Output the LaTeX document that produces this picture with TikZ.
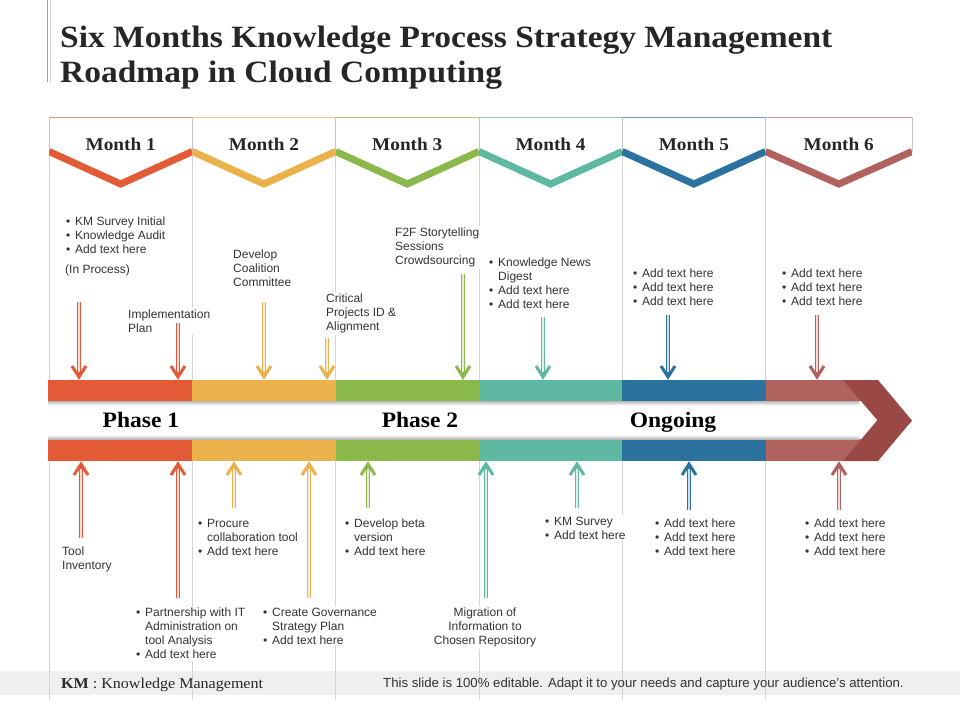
\documentclass[tikz,border=0pt]{standalone}
\usepackage{fontspec}
\setmainfont{Liberation Sans}
\newfontfamily\serifhead[FakeStretch=1.07]{Liberation Serif}
\newfontfamily\seriftitle[FakeStretch=1.08]{Liberation Serif}
\usetikzlibrary{calc}

\definecolor{cOrange}{HTML}{E35B36}
\definecolor{cYellow}{HTML}{EBB14B}
\definecolor{cGreen}{HTML}{8BB84B}
\definecolor{cTeal}{HTML}{5EB8A2}
\definecolor{cBlue}{HTML}{2B729E}
\definecolor{cRose}{HTML}{B0625F}
\definecolor{cDark}{HTML}{9A4845}
\definecolor{gridgray}{HTML}{D4D4D4}
\definecolor{bodytext}{HTML}{333333}
\definecolor{titleink}{HTML}{262626}
\definecolor{footgray}{HTML}{EFEFEF}

\tikzset{
  gridline/.style={draw=gridgray, line width=0.8pt},
  monthlbl/.style={font=\serifhead\bfseries\fontsize{18}{18}\selectfont, text=titleink, anchor=base, inner sep=0pt},
  phaselbl/.style={font=\serifhead\bfseries\fontsize{22}{22}\selectfont, text=black, anchor=base, inner sep=0pt},
  titlelbl/.style={font=\seriftitle\bfseries\fontsize{31}{35}\selectfont, text=titleink, anchor=base west, inner sep=0pt},
  note/.style={font=\fontsize{12}{14}\selectfont, text=bodytext, align=left, anchor=north west, inner sep=2pt, fill=white},
  rmshaft/.style={draw=#1, line width=3.6pt},
  rmcore/.style={draw=#1!22, line width=1.4pt},
  rmhead/.style={draw=#1, line width=3pt, line join=miter, line cap=butt},
}

% bullet with a fixed indent
\newcommand{\bu}{\makebox[9pt][l]{•}}
\newcommand{\ind}{\hspace*{9pt}}

% double-line arrow pointing down onto the timeline bar
\newcommand{\arrowdown}[4]{%
  \coordinate (#1-from) at (#3,#4);
  \coordinate (#1-to) at (#3,377);
  \draw[rmshaft=#2] (#1-from) -- ($(#1-to)+(0,-2)$);
  \draw[rmcore=#2] (#1-from) -- ($(#1-to)+(0,-5)$);
  \draw[rmhead=#2] ($(#1-to)+(-7,-11)$) -- (#1-to) -- ($(#1-to)+(7,-11)$);
}
% double-line arrow pointing up onto the timeline bar
\newcommand{\arrowup}[4]{%
  \coordinate (#1-from) at (#3,#4);
  \coordinate (#1-to) at (#3,464);
  \draw[rmshaft=#2] (#1-from) -- ($(#1-to)+(0,2)$);
  \draw[rmcore=#2] (#1-from) -- ($(#1-to)+(0,5)$);
  \draw[rmhead=#2] ($(#1-to)+(-7,11)$) -- (#1-to) -- ($(#1-to)+(7,11)$);
}

\begin{document}
\begin{tikzpicture}[x=1pt,y=-1pt]
\useasboundingbox (0,0) rectangle (960,720);
\fill[white] (0,0) rectangle (960,720);

% title
\draw[gray!75, line width=1.6pt] (47.3,0) -- (47.3,82);
\draw[gray!35, line width=0.8pt] (50.6,0) -- (50.6,82);
\node[titlelbl] (title1) at (60,47) {Six Months Knowledge Process Strategy Management};
\node[titlelbl] (title2) at (60,82) {Roadmap in Cloud Computing};

% footer band
\fill[footgray] (0,671) rectangle (960,695);

% column rules
\foreach \xa in {49,192.3,335.6,478.9,622.2,765.5}
  \draw[gridline] (\xa,117) -- (\xa,700);

% month tabs
\foreach \i/\xa/\xb/\c in {1/49/192.3/cOrange, 2/192.3/335.6/cYellow, 3/335.6/478.9/cGreen,
                           4/478.9/622.2/cTeal, 5/622.2/765.5/cBlue, 6/765.5/912/cRose} {
  \pgfmathsetmacro\xc{(\xa+\xb)/2}
  \fill[white] (\xa,117) -- (\xb,117) -- (\xb,151.5) -- (\xc,184) -- (\xa,151.5) -- cycle;
  \draw[gray!45, line width=0.8pt] (\xa,117) -- (\xa,151) (\xb,117) -- (\xb,151);
  \draw[\c!70, line width=1pt] (\xa,117.5) -- (\xb,117.5);
  \begin{scope}
    \clip (\xa,140) rectangle (\xb,200);
    \draw[\c, line width=7pt, line join=miter, line cap=square] (\xa,151.5) -- (\xc,184) -- (\xb,151.5);
  \end{scope}
  \node[monthlbl] (month\i) at (\xc,150) {Month \i};
}

% timeline bars
\foreach \xa/\xb/\c in {48/192.3/cOrange, 192.3/335.6/cYellow, 335.6/478.9/cGreen,
                        478.9/622.2/cTeal, 622.2/765.5/cBlue, 765.5/878/cRose} {
  \fill[\c] (\xa,380) rectangle (\xb,401);
  \fill[\c] (\xa,439) rectangle (\xb,461);
}
% arrow head of the timeline
\fill[cDark] (843,380) -- (878,380) -- (912,420.5) -- (878,461) -- (843,461) -- (877,420.5) -- cycle;
% white phase band
\fill[white] (48,401) -- (860.6,401) -- (877,420) -- (860.6,439) -- (48,439) -- cycle;
\shade[top color=black!28, bottom color=white] (48,401) rectangle (859,405.5);
\shade[top color=white, bottom color=black!28] (48,434.5) rectangle (859,439);

\node[phaselbl] (phase1) at (141,427.5) {Phase 1};
\node[phaselbl] (phase2) at (420,427.5) {Phase 2};
\node[phaselbl] (ongoing) at (673,427.5) {Ongoing};

% upper notes
\node[note] (u1) at (64,214.7) {\bu KM Survey Initial\\\bu Knowledge Audit\\\bu Add text here};
\node[note] (u1b) at (63,262.7) {(In Process)};
\node[note] (u2) at (126,307.7) {Implementation\\Plan};
\node[note] (u3) at (231,247.7) {Develop\\Coalition\\Committee};
\node[note] (u4) at (324,291.7) {Critical\\Projects ID \&\\Alignment};
\node[note] (u5) at (393,225.7) {F2F Storytelling\\Sessions\\Crowdsourcing};
\node[note] (u6) at (487,255.7) {\bu Knowledge News\\\ind Digest\\\bu Add text here\\\bu Add text here};
\node[note] (u7) at (631,266.7) {\bu Add text here\\\bu Add text here\\\bu Add text here};
\node[note] (u8) at (780,266.7) {\bu Add text here\\\bu Add text here\\\bu Add text here};

% lower notes
\node[note] (l1) at (60,544.7) {Tool\\Inventory};
\node[note] (l2) at (196,516.7) {\bu Procure\\\ind collaboration tool\\\bu Add text here};
\node[note] (l3) at (343,516.7) {\bu Develop beta\\\ind version\\\bu Add text here};
\node[note] (l4) at (134,605.7) {\bu Partnership with IT\\\ind Administration on\\\ind tool Analysis\\\bu Add text here};
\node[note] (l5) at (261,605.7) {\bu Create Governance\\\ind Strategy Plan\\\bu Add text here};
\node[note, align=center, anchor=north] (l6) at (485,605.7) {Migration of\\Information to\\Chosen Repository};
\node[note] (l7) at (543,514.7) {\bu KM Survey\\\bu Add text here};
\node[note] (l8) at (653,516.7) {\bu Add text here\\\bu Add text here\\\bu Add text here};
\node[note] (l9) at (803,516.7) {\bu Add text here\\\bu Add text here\\\bu Add text here};

% arrows above the timeline
\arrowdown{d1}{cOrange}{79}{302}
\arrowdown{d2}{cOrange}{178}{323}
\arrowdown{d3}{cYellow}{264}{302}
\arrowdown{d4}{cYellow}{327}{338}
\arrowdown{d5}{cGreen}{463}{274}
\arrowdown{d6}{cTeal}{543}{317}
\arrowdown{d7}{cBlue}{668}{315}
\arrowdown{d8}{cRose}{817}{315}

% arrows below the timeline
\arrowup{p1}{cOrange}{81}{538}
\arrowup{p2}{cOrange}{178}{598}
\arrowup{p3}{cYellow}{234}{508}
\arrowup{p4}{cYellow}{309}{598}
\arrowup{p5}{cGreen}{368}{508}
\arrowup{p6}{cTeal}{486}{598}
\arrowup{p7}{cTeal}{577}{508}
\arrowup{p8}{cBlue}{689}{510}
\arrowup{p9}{cRose}{839}{510}

% footer texts
\node[anchor=base west, inner sep=0pt, font=\serifhead\fontsize{15}{15}\selectfont, text=titleink] (kmnote) at (61,688) {\textbf{KM} : Knowledge Management};
\node[anchor=base west, inner sep=0pt, font=\fontsize{13.2}{13.2}\selectfont, text=bodytext] (editnote) at (383,687.5) {This slide is 100\% editable. Adapt it to your needs and capture your audience's attention.};
\end{tikzpicture}
\end{document}
